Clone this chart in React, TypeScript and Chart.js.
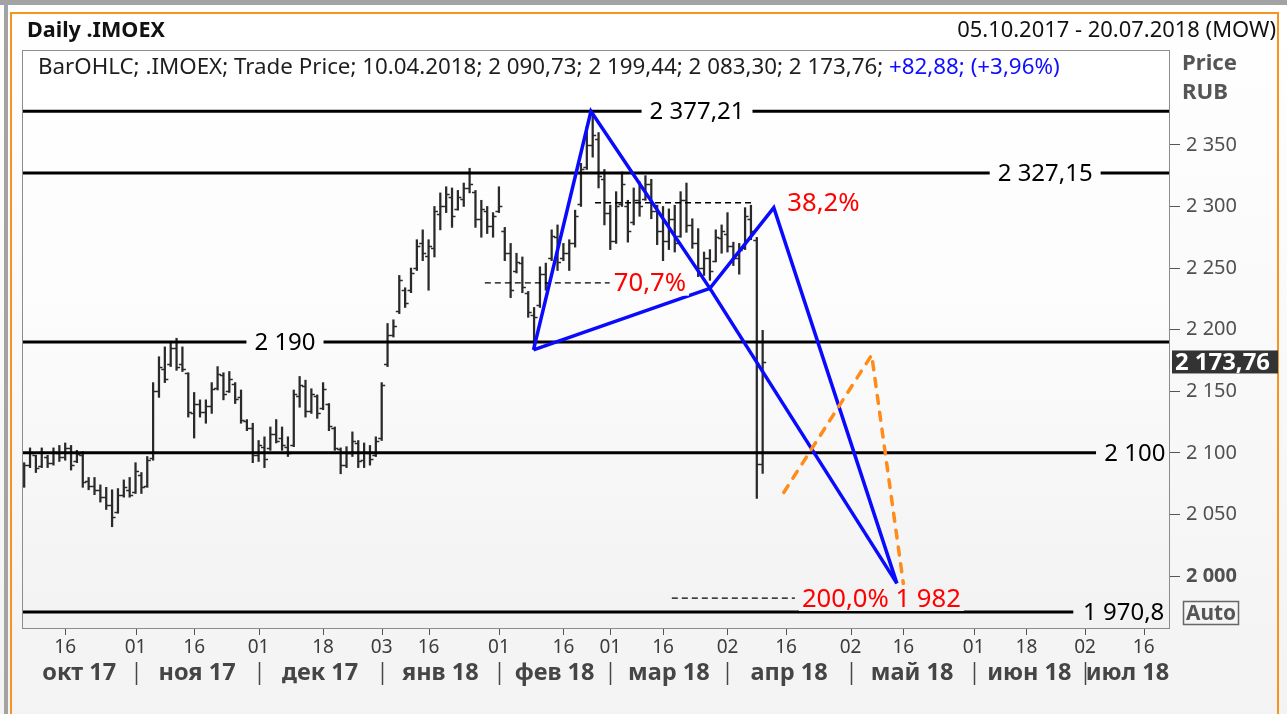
import React, { useEffect, useRef } from 'react';
import { Chart, registerables } from 'chart.js';

Chart.register(...registerables);

const FONT = '"Noto Sans", "DejaVu Sans", sans-serif';

// Trading-day index 0 = 05.10.2017 ... 126 = 10.04.2018
const opens = [
  2074, 2090, 2098, 2089, 2097, 2092, 2100, 2097, 2104, 2093,
  2098, 2077, 2073, 2070, 2064, 2058, 2052, 2066, 2070, 2068,
  2082, 2073, 2096, 2150, 2168, 2172, 2185, 2172, 2165, 2132,
  2140, 2133, 2138, 2153, 2163, 2150, 2156, 2145, 2126, 2120,
  2098, 2105, 2104, 2115, 2112, 2105, 2106, 2146, 2154, 2134,
  2146, 2136, 2140, 2120, 2103, 2090, 2100, 2108, 2094, 2100,
  2098, 2112, 2172, 2196, 2215, 2232, 2232, 2250, 2270, 2260,
  2266, 2294, 2300, 2308, 2298, 2306, 2315, 2312, 2290, 2296,
  2284, 2296, 2280, 2262, 2248, 2254, 2230, 2212, 2220, 2245,
  2258, 2275, 2258, 2262, 2270, 2302, 2332, 2350, 2355, 2322,
  2295, 2272, 2302, 2300, 2287, 2305, 2306, 2318, 2296, 2280,
  2272, 2290, 2276, 2305, 2285, 2270, 2250, 2258, 2256, 2274,
  2278, 2268, 2258, 2266, 2290, 2273, 2090.73,
];
const highs = [
  2092, 2104, 2098, 2104, 2098, 2104, 2106, 2108, 2106, 2102,
  2101, 2080, 2080, 2074, 2072, 2070, 2071, 2078, 2080, 2092,
  2084, 2097, 2157, 2178, 2186, 2189, 2193, 2186, 2165, 2149,
  2143, 2143, 2157, 2170, 2165, 2166, 2157, 2151, 2127, 2124,
  2110, 2113, 2121, 2127, 2121, 2113, 2151, 2162, 2159, 2152,
  2147, 2157, 2140, 2121, 2104, 2105, 2117, 2110, 2108, 2106,
  2113, 2157, 2205, 2208, 2244, 2234, 2250, 2273, 2281, 2273,
  2300, 2311, 2316, 2315, 2313, 2319, 2331, 2313, 2305, 2300,
  2295, 2316, 2283, 2270, 2262, 2259, 2231, 2218, 2251, 2254,
  2281, 2285, 2270, 2273, 2297, 2335, 2365, 2377.21, 2360, 2330,
  2301, 2312, 2328, 2305, 2315, 2320, 2325, 2322, 2301, 2300,
  2298, 2301, 2312, 2319, 2290, 2282, 2263, 2265, 2281, 2285,
  2295, 2271, 2270, 2299, 2301, 2275, 2199.44,
];
const lows = [
  2072, 2088, 2084, 2088, 2088, 2090, 2093, 2094, 2086, 2092,
  2072, 2070, 2066, 2060, 2054, 2040, 2051, 2064, 2064, 2067,
  2067, 2072, 2094, 2145, 2157, 2170, 2167, 2166, 2129, 2112,
  2129, 2124, 2132, 2151, 2143, 2149, 2140, 2124, 2118, 2092,
  2093, 2088, 2102, 2108, 2102, 2097, 2105, 2137, 2129, 2132,
  2128, 2135, 2118, 2102, 2083, 2088, 2097, 2088, 2088, 2090,
  2097, 2110, 2170, 2194, 2213, 2218, 2230, 2248, 2256, 2232,
  2259, 2281, 2295, 2283, 2297, 2300, 2311, 2283, 2275, 2278,
  2275, 2295, 2256, 2226, 2246, 2230, 2210, 2184, 2218, 2232,
  2256, 2248, 2256, 2248, 2267, 2300, 2330, 2340, 2315, 2285,
  2265, 2270, 2300, 2271, 2285, 2292, 2305, 2290, 2269, 2256,
  2265, 2263, 2275, 2279, 2266, 2243, 2244, 2240, 2255, 2262,
  2263, 2252, 2245, 2265, 2273, 2063, 2083.3,
];
const closes = [
  2090, 2100, 2088, 2101, 2092, 2101, 2097, 2104, 2090, 2099,
  2076, 2073, 2070, 2064, 2058, 2048, 2066, 2072, 2066, 2085,
  2072, 2094, 2150, 2170, 2160, 2185, 2170, 2168, 2133, 2140,
  2133, 2138, 2152, 2164, 2148, 2160, 2144, 2127, 2120, 2098,
  2106, 2095, 2115, 2110, 2106, 2100, 2148, 2155, 2134, 2148,
  2132, 2152, 2122, 2104, 2090, 2100, 2110, 2093, 2101, 2095,
  2110, 2155, 2196, 2203, 2240, 2222, 2246, 2268, 2262, 2268,
  2296, 2300, 2310, 2292, 2308, 2315, 2318, 2290, 2298, 2284,
  2292, 2300, 2262, 2232, 2255, 2235, 2214, 2210, 2245, 2238,
  2276, 2255, 2262, 2270, 2292, 2330, 2350, 2358, 2325, 2295,
  2272, 2300, 2318, 2280, 2305, 2300, 2318, 2296, 2280, 2272,
  2290, 2270, 2305, 2285, 2270, 2250, 2258, 2248, 2275, 2280,
  2268, 2258, 2265, 2292, 2280, 2090.88, 2173.76,
];

const X_MIN = -0.2;
const X_MAX = 195.5;
const Y_MIN = 1957.8;
const Y_MAX = 2427;

const yTicks = [2000, 2050, 2100, 2150, 2200, 2250, 2300, 2350];
const xTickIdx = [7, 19, 29, 40, 51, 61, 69, 81, 92, 100, 109, 120, 130, 141, 150, 162, 171, 181, 191];
const xTickLabels = ['16', '01', '16', '01', '18', '03', '16', '01', '16', '01', '16', '02', '16', '02', '16', '01', '18', '02', '16'];
const monthStartIdx = [19, 40, 61, 81, 100, 120, 141, 162, 181];
const monthLabels = ['окт 17', 'ноя 17', 'дек 17', 'янв 18', 'фев 18', 'мар 18', 'апр 18', 'май 18', 'июн 18', 'июл 18'];

const levelValues = [2377.21, 2327.15, 2190, 2100, 1970.8];
const levelLabels = ['2 377,21', '2 327,15', '2 190', '2 100', '1 970,8'];
const levelEndIdx = [X_MAX, X_MAX, X_MAX, 182.9, 179];
const levelLabelIdx = [114.8, 174.2, 44.5, 189.5, 187.6];

const patternIdx = [86.9, 96.7, 117.0, 127.9, 148.9];
const patternVal = [2183.5, 2377.21, 2233.5, 2299, 1994];

const projIdx = [129.6, 144.6, 150.0];
const projVal = [2067.8, 2179.4, 1994];

const fibVal = [2303, 2238, 1982];
const fibStartIdx = [97.4, 78.6, 110.5];
const fibEndIdx = [124.2, 99.9, 131.5];
const fibLabels = ['38,2%', '70,7%', '200,0% 1 982'];
const fibLabelIdx = [130.2, 100.6, 132.7];

const lastPrice = 2173.76;
const legendMain = 'BarOHLC; .IMOEX; Trade Price; 10.04.2018; 2 090,73; 2 199,44; 2 083,30; 2 173,76; ';
const legendChange = '+82,88; (+3,96%)';

const fmtThousands = (v: number) => `${Math.floor(v / 1000)} ${String(Math.round(v % 1000)).padStart(3, '0')}`;

const fitSize = (ctx: CanvasRenderingContext2D, text: string, width: number, weight: string) => {
  ctx.font = `${weight} 100px ${FONT}`;
  return (100 * width) / ctx.measureText(text).width;
};

const plotGradient = (ctx: CanvasRenderingContext2D, top: number, bottom: number) => {
  const g = ctx.createLinearGradient(0, top, 0, bottom);
  g.addColorStop(0, '#ffffff');
  g.addColorStop(0.45, '#fcfcfc');
  g.addColorStop(1, '#f2f2f2');
  return g;
};

const backgroundPlugin = {
  id: 'bg',
  beforeDraw(chart: any) {
    const { ctx, chartArea: a } = chart;
    const W = chart.width;
    const H = chart.height;
    ctx.save();
    const g = ctx.createLinearGradient(0, 0, 0, H);
    g.addColorStop(0, '#ffffff');
    g.addColorStop(1, '#f3f3f3');
    ctx.fillStyle = g;
    ctx.fillRect(0, 0, W, H);
    ctx.fillStyle = '#a3a3a3';
    ctx.fillRect(0, 0, W, 5);
    ctx.fillRect(4, 0, 4, H);
    ctx.strokeStyle = '#f7931e';
    ctx.lineWidth = 2;
    ctx.strokeRect(11, 13, 1267, H + 10);
    ctx.fillStyle = plotGradient(ctx, a.top, a.bottom);
    ctx.fillRect(a.left, a.top, a.right - a.left, a.bottom - a.top);
    ctx.restore();
  },
};

const ohlcTicksPlugin = {
  id: 'ohlcTicks',
  beforeDatasetsDraw(chart: any) {
    const { ctx, chartArea: a, scales } = chart;
    const xs = scales.x;
    const ys = scales.y;
    ctx.save();
    ctx.beginPath();
    ctx.rect(a.left, a.top, a.right - a.left, a.bottom - a.top);
    ctx.clip();
    ctx.strokeStyle = '#2a2a2a';
    ctx.lineWidth = 1.5;
    ctx.beginPath();
    for (let i = 0; i < opens.length; i++) {
      const px = xs.getPixelForValue(i);
      const yo = Math.round(ys.getPixelForValue(opens[i])) + 0.5;
      const yc = Math.round(ys.getPixelForValue(closes[i])) + 0.5;
      ctx.moveTo(px - 3.5, yo);
      ctx.lineTo(px, yo);
      ctx.moveTo(px, yc);
      ctx.lineTo(px + 3.5, yc);
    }
    ctx.stroke();
    ctx.restore();
  },
};

const labelsPlugin = {
  id: 'labels',
  afterDatasetsDraw(chart: any) {
    const { ctx, chartArea: a, scales } = chart;
    const xs = scales.x;
    const ys = scales.y;
    ctx.save();
    ctx.beginPath();
    ctx.rect(a.left, a.top, a.right - a.left, a.bottom - a.top);
    ctx.clip();
    const bg = plotGradient(ctx, a.top, a.bottom);

    // level labels
    const ls = fitSize(ctx, levelLabels[0], 95, 'normal');
    ctx.font = `normal ${ls}px ${FONT}`;
    ctx.textBaseline = 'middle';
    ctx.textAlign = 'center';
    levelValues.forEach((v, k) => {
      const cx = xs.getPixelForValue(levelLabelIdx[k]);
      const cy = ys.getPixelForValue(v);
      const w = ctx.measureText(levelLabels[k]).width;
      ctx.fillStyle = bg;
      ctx.fillRect(cx - w / 2 - 8, cy - 5, w + 16, 10);
      ctx.fillStyle = '#000000';
      ctx.fillText(levelLabels[k], cx, cy + 1);
    });

    // red fib labels
    const rs = fitSize(ctx, fibLabels[2], 159, 'normal');
    ctx.font = `normal ${rs}px ${FONT}`;
    ctx.textAlign = 'left';
    fibLabels.forEach((t, k) => {
      const lx = xs.getPixelForValue(fibLabelIdx[k]);
      const cy = ys.getPixelForValue(fibVal[k]);
      const w = ctx.measureText(t).width;
      ctx.fillStyle = bg;
      ctx.fillRect(lx - 3, cy - rs * 0.5, w + 6, rs);
      ctx.fillStyle = '#ff0000';
      ctx.fillText(t, lx, cy + 1);
    });

    // legend line
    const full = legendMain + legendChange;
    const gs = fitSize(ctx, full, 1022, 'normal');
    ctx.font = `normal ${gs}px ${FONT}`;
    ctx.fillStyle = '#1e1e1e';
    ctx.fillText(legendMain, 38, 68);
    const mw = ctx.measureText(legendMain).width;
    ctx.fillStyle = '#1010ff';
    ctx.fillText(legendChange, 38 + mw, 68);
    ctx.restore();
  },
};

const chromePlugin = {
  id: 'chrome',
  afterDraw(chart: any) {
    const { ctx, chartArea: a, scales } = chart;
    const xs = scales.x;
    const ys = scales.y;
    ctx.save();
    // plot frame
    ctx.strokeStyle = '#8c8c8c';
    ctx.lineWidth = 1;
    ctx.strokeRect(a.left - 0.5, a.top + 0.5, a.right - a.left, a.bottom - a.top);

    // x tick marks
    ctx.strokeStyle = '#555555';
    ctx.lineWidth = 1;
    xTickIdx.forEach((t) => {
      const tx = Math.round(xs.getPixelForValue(t)) + 0.5;
      ctx.beginPath();
      ctx.moveTo(tx, a.bottom + 1);
      ctx.lineTo(tx, a.bottom + 7);
      ctx.stroke();
    });

    // header
    ctx.textBaseline = 'middle';
    ctx.textAlign = 'left';
    const hs = fitSize(ctx, 'Daily .IMOEX', 138, 'bold');
    ctx.font = `bold ${hs}px ${FONT}`;
    ctx.fillStyle = '#111111';
    ctx.fillText('Daily .IMOEX', 27, 31);
    const ds = fitSize(ctx, '05.10.2017 - 20.07.2018 (MOW)', 319, 'normal');
    ctx.font = `normal ${ds}px ${FONT}`;
    ctx.textAlign = 'right';
    ctx.fillText('05.10.2017 - 20.07.2018 (MOW)', 1276, 31);

    // price axis captions
    ctx.textAlign = 'left';
    const ps = fitSize(ctx, 'Price', 55, 'bold');
    ctx.font = `bold ${ps}px ${FONT}`;
    ctx.fillStyle = '#555555';
    ctx.fillText('Price', 1182, 64);
    ctx.fillText('RUB', 1182, 93);

    // Auto box
    ctx.strokeStyle = '#666666';
    ctx.lineWidth = 1.5;
    ctx.strokeRect(1183.5, 601.5, 55, 23);
    const as = fitSize(ctx, 'Auto', 50, 'bold');
    ctx.font = `bold ${as}px ${FONT}`;
    ctx.textAlign = 'center';
    ctx.fillText('Auto', 1211, 614);

    // last price tag
    const py = ys.getPixelForValue(lastPrice);
    ctx.fillStyle = '#333333';
    ctx.fillRect(a.right + 2, py - 11.5, 1278 - a.right - 2, 23);
    const ts = fitSize(ctx, '2 173,76', 95, 'bold');
    ctx.font = `bold ${ts}px ${FONT}`;
    ctx.fillStyle = '#ffffff';
    ctx.textAlign = 'left';
    ctx.fillText('2 173,76', a.right + 5, py + 1);

    // month row
    const ms = fitSize(ctx, monthLabels[0], 74, 'bold');
    ctx.font = `bold ${ms}px ${FONT}`;
    ctx.fillStyle = '#454545';
    ctx.textAlign = 'center';
    const bounds = [X_MIN, ...monthStartIdx, X_MAX];
    monthLabels.forEach((m, k) => {
      const cx = (xs.getPixelForValue(bounds[k]) + xs.getPixelForValue(bounds[k + 1])) / 2;
      ctx.fillText(m, cx, 673);
    });
    ctx.strokeStyle = '#454545';
    ctx.lineWidth = 1.5;
    monthStartIdx.forEach((m) => {
      const sx = Math.round(xs.getPixelForValue(m)) + 0.5;
      ctx.beginPath();
      ctx.moveTo(sx, 662);
      ctx.lineTo(sx, 685);
      ctx.stroke();
    });
    ctx.restore();
  },
};

const lineDs = (data: { x: number; y: number }[], color: string, width: number, order: number, extra: any = {}) => ({
  type: 'line' as const,
  data,
  borderColor: color,
  borderWidth: width,
  pointRadius: 0,
  tension: 0,
  fill: false,
  order,
  ...extra,
});

export default function App() {
  const ref = useRef<HTMLCanvasElement>(null);

  useEffect(() => {
    document.body.style.margin = '0';
    const datasets: any[] = [];

    datasets.push({
      type: 'bar',
      data: highs.map((h, i) => ({ x: i, y: [lows[i], h] })),
      backgroundColor: '#2a2a2a',
      borderWidth: 0,
      barThickness: 1.6,
      grouped: false,
      order: 10,
    });

    levelValues.forEach((v, k) => {
      datasets.push(
        lineDs(
          [
            { x: X_MIN, y: v },
            { x: levelEndIdx[k], y: v },
          ],
          '#000000',
          3,
          6,
        ),
      );
    });

    fibVal.forEach((v, k) => {
      datasets.push(
        lineDs(
          [
            { x: fibStartIdx[k], y: v },
            { x: fibEndIdx[k], y: v },
          ],
          '#000000',
          1.3,
          5,
          { borderDash: [6, 4] },
        ),
      );
    });

    const pt = (k: number) => ({ x: patternIdx[k], y: patternVal[k] });
    datasets.push(lineDs([pt(0), pt(1), pt(2), pt(3), pt(4)], '#0a0aff', 3.5, 2, { borderJoinStyle: 'miter' }));
    datasets.push(lineDs([pt(0), pt(2)], '#0a0aff', 3.5, 2));
    datasets.push(lineDs([pt(2), pt(4)], '#0a0aff', 3.5, 2));

    datasets.push(
      lineDs(
        projIdx.map((x, k) => ({ x, y: projVal[k] })),
        '#ff8c1a',
        3.5,
        1,
        { borderDash: [8, 9], borderCapStyle: 'round', borderJoinStyle: 'round' },
      ),
    );

    const chart = new Chart(ref.current as HTMLCanvasElement, {
      type: 'line',
      data: { datasets },
      options: {
        animation: false,
        responsive: false,
        devicePixelRatio: 1,
        events: [],
        layout: { padding: { left: 23, top: 50, right: 0, bottom: 0 } },
        plugins: { legend: { display: false }, tooltip: { enabled: false } },
        scales: {
          x: {
            type: 'linear',
            position: 'bottom',
            min: X_MIN,
            max: X_MAX,
            offset: false,
            afterBuildTicks: (s: any) => {
              s.ticks = xTickIdx.map((v) => ({ value: v }));
            },
            afterFit: (s: any) => {
              s.height = 86;
            },
            grid: { display: true, drawOnChartArea: false, drawTicks: false, tickLength: 6, color: 'rgba(0,0,0,0)' },
            border: { display: false },
            ticks: {
              autoSkip: false,
              maxRotation: 0,
              padding: 8,
              color: '#3c3c3c',
              font: { family: FONT, size: 19 },
              callback: (_v: any, i: number) => xTickLabels[i],
            },
          },
          y: {
            type: 'linear',
            position: 'right',
            min: Y_MIN,
            max: Y_MAX,
            afterBuildTicks: (s: any) => {
              s.ticks = yTicks.map((v) => ({ value: v }));
            },
            afterFit: (s: any) => {
              s.width = 117;
            },
            grid: { drawOnChartArea: false, drawTicks: true, tickLength: 10, color: '#555555' },
            border: { display: false },
            ticks: {
              padding: 6,
              color: '#505050',
              font: (c: any) => ({
                family: FONT,
                size: 20,
                weight: c.tick && c.tick.value === 2000 ? 'bold' : 'normal',
              }),
              callback: (v: any) => fmtThousands(Number(v)),
            },
          },
        },
      } as any,
      plugins: [backgroundPlugin, ohlcTicksPlugin, labelsPlugin, chromePlugin],
    });
    return () => chart.destroy();
  }, []);

  return (
    <div style={{ position: 'absolute', left: 0, top: 0, width: 1287, height: 714 }}>
      <canvas ref={ref} width={1287} height={714} style={{ display: 'block', width: 1287, height: 714 }} />
    </div>
  );
}
